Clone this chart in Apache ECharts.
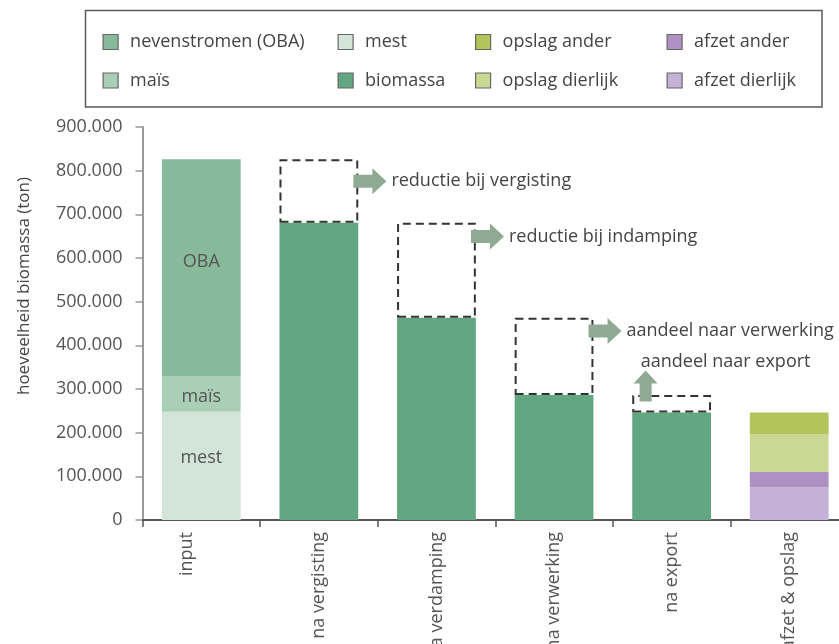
<!DOCTYPE html>
<html>
<head>
<meta charset="utf-8">
<script src="https://cdn.jsdelivr.net/npm/echarts@6/dist/echarts.min.js"></script>
<style>
html,body{margin:0;padding:0;background:#fff;}
#chart{width:839px;height:644px;}
</style>
</head>
<body>
<div id="chart"></div>
<script>
// ---- data ----
const categories = ['input', 'na vergisting', 'na verdamping', 'na verwerking', 'na export', 'afzet & opslag'];
const mest = [248000, '-', '-', '-', '-', '-'];
const mais = [82000, '-', '-', '-', '-', '-'];
const oba = [496000, '-', '-', '-', '-', '-'];
const biomassa = ['-', 681000, 463000, 286000, 246000, '-'];
const reductie = ['-', 145000, 218000, 177000, 40000, '-'];
const afzetDierlijk = ['-', '-', '-', '-', '-', 75000];
const afzetAnder = ['-', '-', '-', '-', '-', 35000];
const opslagDierlijk = ['-', '-', '-', '-', '-', 87000];
const opslagAnder = ['-', '-', '-', '-', '-', 49000];
const inputLabels = ['mest', 'maïs', 'OBA'];
const yMin = 0, yMax = 900000, yInterval = 100000;
const arrowTexts = ['reductie bij vergisting', 'reductie bij indamping', 'aandeel naar verwerking'];
const arrowPoints = [[1, 776000], [2, 649000], [3, 433000]];
const exportText = 'aandeel naar export';
const exportPoint = [4, 307000];

// ---- styles ----
const FONT = '"Open Sans", sans-serif';
const colors = {
  oba: '#88b99b', mais: '#aacfb7', mest: '#d2e5d8', biomassa: '#62a682',
  opslagAnder: '#b2c45a', opslagDierlijk: '#cbd894', afzetAnder: '#b08fc4', afzetDierlijk: '#c5b0d7'
};
const arrowColor = '#8faa92';
const rightArrow = 'path://M0,6.5 L19,6.5 L19,0 L33,13 L19,26 L19,19.5 L0,19.5 Z';
const upArrow = 'path://M12,0 L24,13 L18,13 L18,31 L6,31 L6,13 L0,13 Z';

function fmt(v) { return String(v).replace(/\B(?=(\d{3})+(?!\d))/g, '.'); }

function withInputLabel(arr, text, dy) {
  return arr.map(function (v, i) {
    if (i !== 0) return v;
    return { value: v, label: { show: true, formatter: text, position: 'inside', offset: [0, dy],
      fontFamily: FONT, fontSize: 18, color: '#555' } };
  });
}

function barSeries(name, data, color) {
  return { name: name, type: 'bar', stack: 'a', barWidth: '67%', data: data,
    itemStyle: { color: color }, emphasis: { disabled: true } };
}

const chart = echarts.init(document.getElementById('chart'), null, { renderer: 'canvas' });

const legendBase = {
  orient: 'vertical', padding: 0, itemWidth: 15, itemHeight: 15, itemGap: 20.5, top: 33,
  icon: 'rect', selectedMode: false,
  itemStyle: { borderColor: '#666', borderWidth: 1.2 },
  textStyle: { fontFamily: FONT, fontSize: 18, color: '#444', padding: [0, 0, 0, 7] }
};

const option = {
  animation: false,
  backgroundColor: '#fff',
  grid: { left: 142.5, right: -9, top: 127, bottom: 124, containLabel: false, outerBoundsMode: 'none' },
  legend: [
    Object.assign({}, legendBase, { left: 102.5, data: ['nevenstromen (OBA)', 'maïs'] }),
    Object.assign({}, legendBase, { left: 337.5, data: ['mest', 'biomassa'] }),
    Object.assign({}, legendBase, { left: 475, data: ['opslag ander', 'opslag dierlijk'] }),
    Object.assign({}, legendBase, { left: 666.5, data: ['afzet ander', 'afzet dierlijk'] })
  ],
  graphic: [
    { type: 'rect', shape: { x: 85.5, y: 10.5, width: 736.5, height: 96.5 }, silent: true,
      style: { fill: 'none', stroke: '#5a5a5a', lineWidth: 1.5 }, z: -1 },
    { type: 'text', x: 24, y: 286, rotation: Math.PI / 2, silent: true,
      style: { text: 'hoeveelheid biomassa (ton)', fontFamily: FONT, fontSize: 17, fill: '#444',
        align: 'center', verticalAlign: 'middle' } }
  ],
  xAxis: {
    type: 'category', data: categories,
    axisLine: { lineStyle: { color: '#555', width: 2 } },
    axisTick: { show: true, length: 7, lineStyle: { color: '#555', width: 1.5 } },
    axisLabel: { rotate: 90, margin: 12, fontFamily: FONT, fontSize: 18, color: '#555', interval: 0,
      formatter: function (v, i) { return i === 0 ? '{p|' + v + '}' : v; },
      rich: { p: { fontFamily: FONT, fontSize: 18, color: '#555', padding: [0, 0, 28, 0] } } }
  },
  yAxis: {
    type: 'value', min: yMin, max: yMax, interval: yInterval,
    axisLine: { show: true, lineStyle: { color: '#999', width: 2 } },
    axisTick: { show: true, length: 7, lineStyle: { color: '#999', width: 1.5 } },
    splitLine: { show: false },
    axisLabel: { formatter: fmt, margin: 20, fontFamily: FONT, fontSize: 18, color: '#555' }
  },
  series: [
    barSeries('mest', withInputLabel(mest, inputLabels[0], -8), colors.mest),
    barSeries('maïs', withInputLabel(mais, inputLabels[1], 3), colors.mais),
    barSeries('nevenstromen (OBA)', withInputLabel(oba, inputLabels[2], -6), colors.oba),
    barSeries('biomassa', biomassa, colors.biomassa),
    barSeries('afzet dierlijk', afzetDierlijk, colors.afzetDierlijk),
    barSeries('afzet ander', afzetAnder, colors.afzetAnder),
    barSeries('opslag dierlijk', opslagDierlijk, colors.opslagDierlijk),
    barSeries('opslag ander', opslagAnder, colors.opslagAnder),
    { name: 'reductie', type: 'bar', stack: 'a', barWidth: '67%', data: reductie, z: 3,
      itemStyle: { color: 'rgba(0,0,0,0)', borderColor: '#333', borderWidth: 2, borderType: [8, 5] },
      emphasis: { disabled: true } },
    { name: 'pijlen', type: 'scatter', z: 5, symbol: rightArrow, symbolSize: [33, 26], symbolOffset: [51, 0],
      itemStyle: { color: arrowColor, opacity: 1 }, emphasis: { disabled: true },
      data: arrowPoints.map(function (p, i) {
        return { value: p, label: { show: true, position: 'right', distance: 5, formatter: arrowTexts[i],
          fontFamily: FONT, fontSize: 18, color: '#444' } };
      }) },
    { name: 'export', type: 'scatter', z: 5, symbol: upArrow, symbolSize: [24, 31], symbolOffset: [-26, 0],
      itemStyle: { color: arrowColor, opacity: 1 }, emphasis: { disabled: true },
      data: [{ value: exportPoint, label: { show: true, position: 'top', distance: 0, offset: [80, 0],
        formatter: exportText, fontFamily: FONT, fontSize: 18, color: '#444' } }] }
  ]
};
chart.setOption(option);
</script>
</body>
</html>
